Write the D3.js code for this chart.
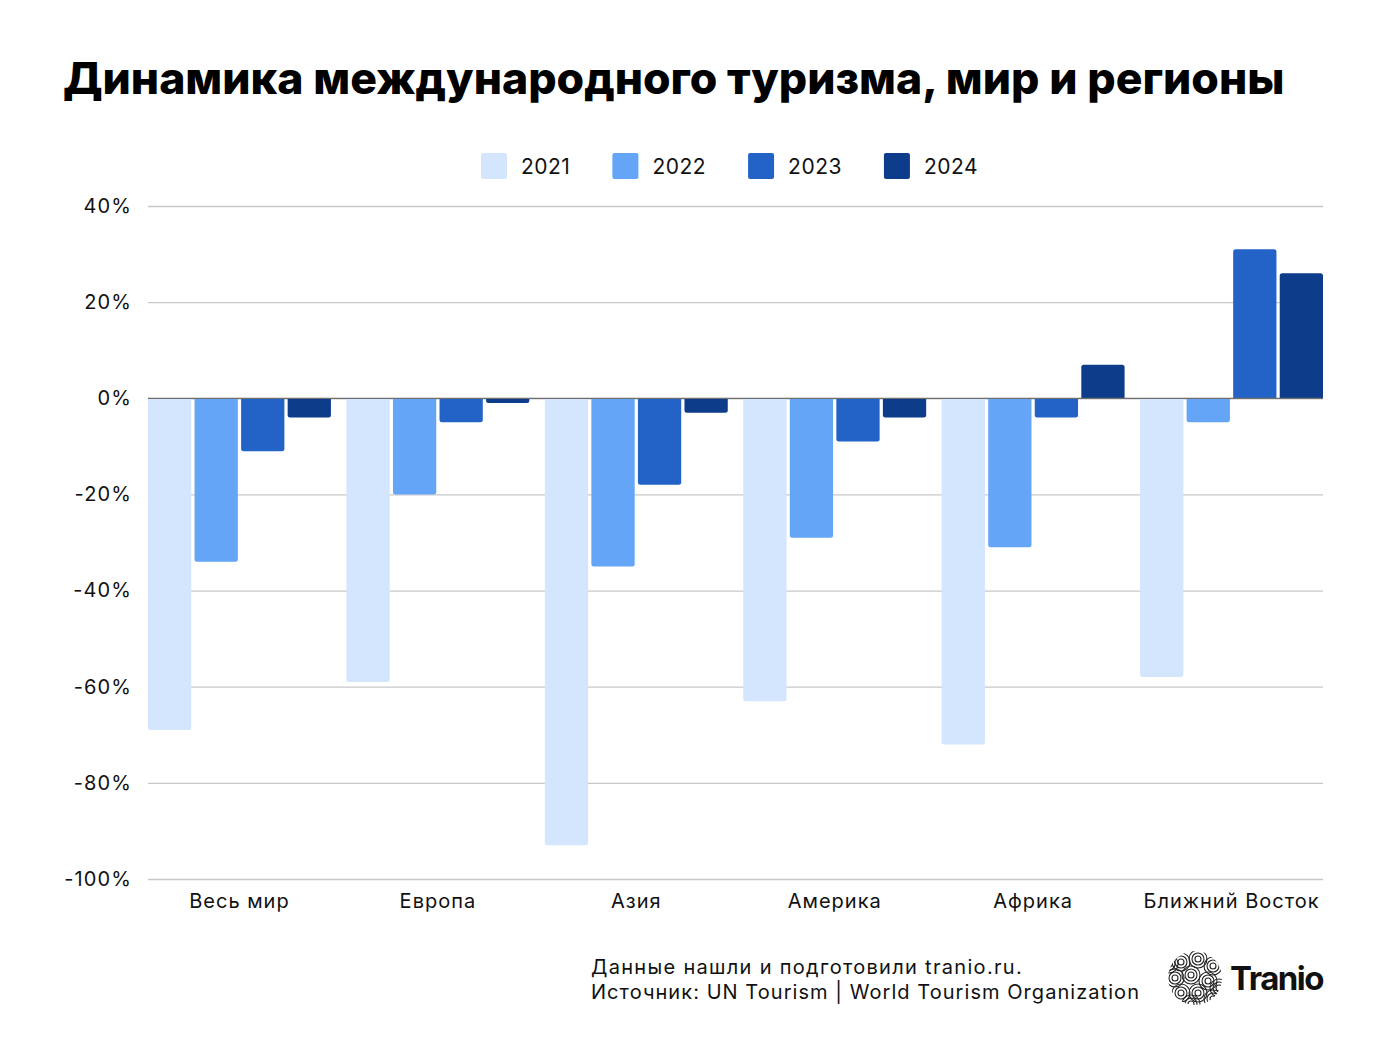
<!DOCTYPE html>
<html><head><meta charset="utf-8">
<script src="https://cdn.jsdelivr.net/npm/d3@7"></script>
<style>
html,body{margin:0;padding:0;background:#fff;}
svg{display:block;font-family:Inter,"Noto Sans",sans-serif;}
</style></head>
<body>
<svg id="chart" width="1386" height="1040"></svg>
<script>
const categories = ["Весь мир","Европа","Азия","Америка","Африка","Ближний Восток"];
const years = ["2021","2022","2023","2024"];
const v2021 = [-69,-59,-93,-63,-72,-58];
const v2022 = [-34,-20,-35,-29,-31,-5];
const v2023 = [-11,-5,-18,-9,-4,31];
const v2024 = [-4,-1,-3,-4,7,26];
const yTicks = [40,20,0,-20,-40,-60,-80,-100];
const colors = ["#d3e6fe","#64a5f8","#2363c8","#0d3d8a"];
const titleText = "Динамика международного туризма, мир и регионы";
const footer1 = "Данные нашли и подготовили tranio.ru.";
const footer2 = "Источник: UN Tourism | World Tourism Organization";

const series = [v2021,v2022,v2023,v2024];
const svg = d3.select("#chart");
const L = 148, R = 1323, T = 206, B = 879;

function fitWidth(sel, target){
  sel.attr("letter-spacing",0);
  const w = sel.node().getComputedTextLength();
  const n = sel.text().length;
  sel.attr("letter-spacing", ((target - w)/n).toFixed(3));
}

// title
const title = svg.append("text").attr("x",63).attr("y",94)
  .attr("font-size",41).attr("font-weight",800).attr("fill","#000").text(titleText);
const tw = title.node().getComputedTextLength();
title.attr("font-size", 41*1222/tw);

// legend
let lx = 481;
years.forEach((y,i)=>{
  svg.append("rect").attr("x",lx).attr("y",153).attr("width",26).attr("height",26).attr("rx",2).attr("fill",colors[i]);
  const t = svg.append("text").attr("x",lx+40).attr("y",174).attr("font-size",21).attr("letter-spacing",0.5).attr("fill","#111").text(y);
  lx = lx + 40 + t.node().getComputedTextLength() + 42;
});

const yScale = d3.scaleLinear().domain([-100,40]).range([B,T]);
const x0 = d3.scaleBand().domain(categories).range([L,R]).paddingInner(0.078).paddingOuter(0);
const x1 = d3.scaleBand().domain(years).range([0,x0.bandwidth()]).paddingInner(0.07).paddingOuter(0);

// grid
const yAxis = d3.axisLeft(yScale).tickValues(yTicks).tickSize(-(R-L)).tickFormat(d=>d+"%");
const ga = svg.append("g").attr("transform",`translate(${L},0)`).call(yAxis);
ga.select(".domain").remove();
ga.selectAll(".tick line").attr("stroke","#c8c8c8").attr("stroke-width",1.3);
ga.selectAll(".tick text").attr("x",-16).attr("font-size",20).attr("letter-spacing",1.1).attr("fill","#111").attr("font-family","Inter,'Noto Sans',sans-serif");

// bars
function barPath(x,w,v){
  const y0 = yScale(0), y1 = yScale(v), r = Math.min(2.5, Math.abs(y1-y0)/2);
  if (v>=0){
    return `M${x},${y0}V${y1+r}Q${x},${y1} ${x+r},${y1}H${x+w-r}Q${x+w},${y1} ${x+w},${y1+r}V${y0}Z`;
  } else {
    return `M${x},${y0}V${y1-r}Q${x},${y1} ${x+r},${y1}H${x+w-r}Q${x+w},${y1} ${x+w},${y1-r}V${y0}Z`;
  }
}
const groups = svg.append("g").selectAll("g").data(categories).join("g")
  .attr("transform",d=>`translate(${x0(d)},0)`);
groups.selectAll("path").data((d,ci)=>years.map((y,si)=>({y,si,v:series[si][ci]}))).join("path")
  .attr("d",d=>barPath(x1(d.y),x1.bandwidth(),d.v))
  .attr("fill",d=>colors[d.si]);

// zero line
svg.append("line").attr("x1",L).attr("x2",R).attr("y1",yScale(0)).attr("y2",yScale(0))
  .attr("stroke","#6e6e6e").attr("stroke-width",1.3);

// x labels
const xAxis = d3.axisBottom(x0).tickSize(0).tickPadding(0);
const gx = svg.append("g").attr("transform",`translate(0,${B})`).call(xAxis);
gx.select(".domain").remove();
gx.selectAll(".tick text").attr("y",15).attr("dy","0.71em").attr("font-size",20).attr("letter-spacing",1).attr("fill","#111").attr("font-family","Inter,'Noto Sans',sans-serif");

// footer
const f1 = svg.append("text").attr("x",591).attr("y",974).attr("font-size",20).attr("fill","#111").text(footer1);
fitWidth(f1, 432);
const f2 = svg.append("text").attr("x",591).attr("y",999).attr("font-size",20).attr("fill","#111").text(footer2);
fitWidth(f2, 549);

// logo
const cx = 1195, cy = 978, rr = 27;
const defs = svg.append("defs");
defs.append("clipPath").attr("id","lc").append("circle").attr("cx",cx).attr("cy",cy).attr("r",rr);
const lg = svg.append("g").attr("clip-path","url(#lc)");
const spots = [[-14,-16],[3,-19],[18,-12],[-20,0],[-4,-3],[13,3],[24,10],[-14,15],[3,15],[18,21],[-4,26],[-26,-14]];
spots.forEach(([dx,dy])=>{
  [9,6,3].forEach(r=>{
    lg.append("circle").attr("cx",cx+dx).attr("cy",cy+dy).attr("r",r).attr("fill","none").attr("stroke","#222").attr("stroke-width",1.1);
  });
});
const tr = svg.append("text").attr("x",1230).attr("y",990).attr("font-size",33).attr("font-weight",700).attr("fill","#111").text("Tranio");
fitWidth(tr, 93);
</script>
</body></html>
